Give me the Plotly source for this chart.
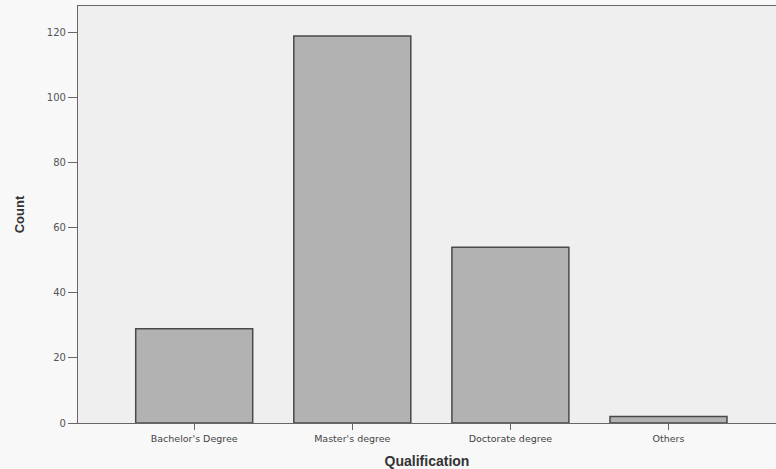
import plotly.graph_objects as go

categories = ["Bachelor's Degree", "Master's degree", "Doctorate degree", "Others"]
counts = [29, 119, 54, 2]
y_ticks = [0, 20, 40, 60, 80, 100, 120]

fig = go.Figure(go.Bar(
    x=categories, y=counts,
    marker=dict(color="#b2b2b2", line=dict(color="#4a4a4a", width=1.5)),
    width=0.74,
))

fig.update_layout(
    width=776, height=469,
    margin=dict(l=78, r=0, t=6, b=46),
    paper_bgcolor="#f8f8f8",
    plot_bgcolor="#efefef",
    font=dict(family="DejaVu Sans, Arial, sans-serif", color="#333"),
    showlegend=False,
    xaxis=dict(
        range=[-0.735, 3.68],
        showline=True, linecolor="#666", linewidth=1.2, mirror=True,
        ticks="outside", ticklen=6, tickcolor="#666",
        tickfont=dict(size=9.5, color="#444"),
        showgrid=False,
        title=dict(text="<b>Qualification</b>",
                   font=dict(family="Liberation Sans, Arial, sans-serif", size=14, color="#333"),
                   standoff=13),
    ),
    yaxis=dict(
        range=[0, 128.2],
        tickvals=y_ticks,
        showline=True, linecolor="#666", linewidth=1.2, mirror=False,
        ticks="outside", ticklen=9, tickcolor="#666",
        tickfont=dict(size=10, color="#555"),
        showgrid=False, zeroline=False,
        title=dict(text="<b>Count</b>",
                   font=dict(family="Liberation Sans, Arial, sans-serif", size=13, color="#333"),
                   standoff=19),
    ),
)

fig.write_html("out.html", config={"displayModeBar": False},
               post_script="document.body.style.margin='0';document.body.style.overflow='hidden';")
